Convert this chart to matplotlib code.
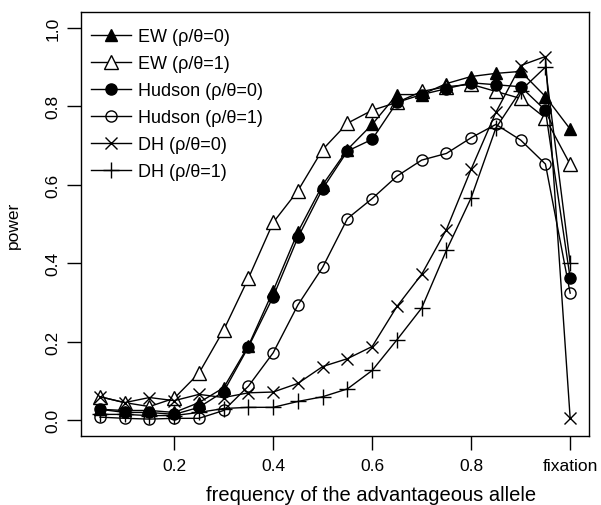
import matplotlib
matplotlib.use("Agg")
import matplotlib.pyplot as plt

plt.rcParams['font.family'] = ['Liberation Sans', 'DejaVu Sans']

# allele frequency (last point = fixation, drawn at 1.0)
freq = [0.05, 0.10, 0.15, 0.20, 0.25, 0.30, 0.35, 0.40, 0.45, 0.50,
        0.55, 0.60, 0.65, 0.70, 0.75, 0.80, 0.85, 0.90, 0.95, 1.00]

ew0 = [0.028, 0.025, 0.025, 0.020, 0.045, 0.083, 0.19, 0.33, 0.48, 0.60,
       0.69, 0.754, 0.83, 0.83, 0.858, 0.876, 0.884, 0.889, 0.825, 0.742]
ew1 = [0.06, 0.045, 0.035, 0.056, 0.12, 0.23, 0.362, 0.504, 0.585, 0.69,
       0.757, 0.79, 0.81, 0.838, 0.85, 0.856, 0.838, 0.82, 0.77, 0.652]
hud0 = [0.028, 0.02, 0.02, 0.015, 0.033, 0.073, 0.187, 0.315, 0.466, 0.59,
        0.686, 0.716, 0.81, 0.83, 0.845, 0.86, 0.855, 0.85, 0.79, 0.362]
hud1 = [0.008, 0.005, 0.003, 0.005, 0.005, 0.025, 0.087, 0.172, 0.294, 0.39,
        0.514, 0.565, 0.622, 0.663, 0.68, 0.72, 0.754, 0.714, 0.653, 0.324]
dh0 = [0.06, 0.045, 0.058, 0.05, 0.066, 0.058, 0.07, 0.072, 0.094, 0.137,
       0.157, 0.188, 0.29, 0.372, 0.486, 0.64, 0.785, 0.904, 0.927, 0.005]
dh1 = [0.015, 0.015, 0.012, 0.012, 0.02, 0.03, 0.033, 0.033, 0.048, 0.06,
       0.08, 0.127, 0.205, 0.286, 0.433, 0.567, 0.745, 0.84, 0.90, 0.40]

xtick_pos = [0.2, 0.4, 0.6, 0.8, 1.0]
xtick_lab = ["0.2", "0.4", "0.6", "0.8", "fixation"]
ytick_pos = [0.0, 0.2, 0.4, 0.6, 0.8, 1.0]
ytick_lab = ["0.0", "0.2", "0.4", "0.6", "0.8", "1.0"]

fig = plt.figure(figsize=(6.01, 5.06), dpi=100)
ax = fig.add_axes([0.135, 0.1364, 0.845, 0.8376])

ax.plot(freq, ew0, '-', color='black', lw=1, marker='^', ms=9,
        mfc='black', mec='black', label='EW (ρ/θ=0)')
ax.plot(freq, ew1, '-', color='black', lw=1, marker='^', ms=10,
        mfc='white', mec='black', mew=1, label='EW (ρ/θ=1)')
ax.plot(freq, hud0, '-', color='black', lw=1, marker='o', ms=8,
        mfc='black', mec='black', label='Hudson (ρ/θ=0)')
ax.plot(freq, hud1, '-', color='black', lw=1, marker='o', ms=8,
        mfc='none', mec='black', mew=1, label='Hudson (ρ/θ=1)')
ax.plot(freq, dh0, '-', color='black', lw=1, marker='x', ms=9,
        mec='black', mew=1, label='DH (ρ/θ=0)')
ax.plot(freq, dh1, '-', color='black', lw=1, marker='+', ms=12,
        mec='black', mew=1, label='DH (ρ/θ=1)')

ax.set_xlim(0.012, 1.038)
ax.set_ylim(-0.04, 1.04)
ax.set_xticks(xtick_pos)
ax.set_xticklabels(xtick_lab, fontsize=12.5)
ax.set_yticks(ytick_pos)
ax.set_yticklabels(ytick_lab, fontsize=12.5, rotation=90, va='center')
ax.tick_params(length=10, width=1)
ax.tick_params(axis='x', pad=6)
ax.tick_params(axis='y', pad=5)
for s in ax.spines.values():
    s.set_linewidth(1)

ax.set_xlabel("frequency of the advantageous allele", fontsize=14.5)
ax.set_ylabel("power", fontsize=12.5)
ax.xaxis.set_label_coords(0.57, -0.115)
ax.yaxis.set_label_coords(-0.118, 0.5)

ax.legend(loc='upper left', bbox_to_anchor=(0.02, 0.962), frameon=False,
          fontsize=13, handlelength=2.2, handletextpad=0.4,
          labelspacing=0.55, borderaxespad=0, borderpad=0)

fig.savefig("out.png", dpi=100)
